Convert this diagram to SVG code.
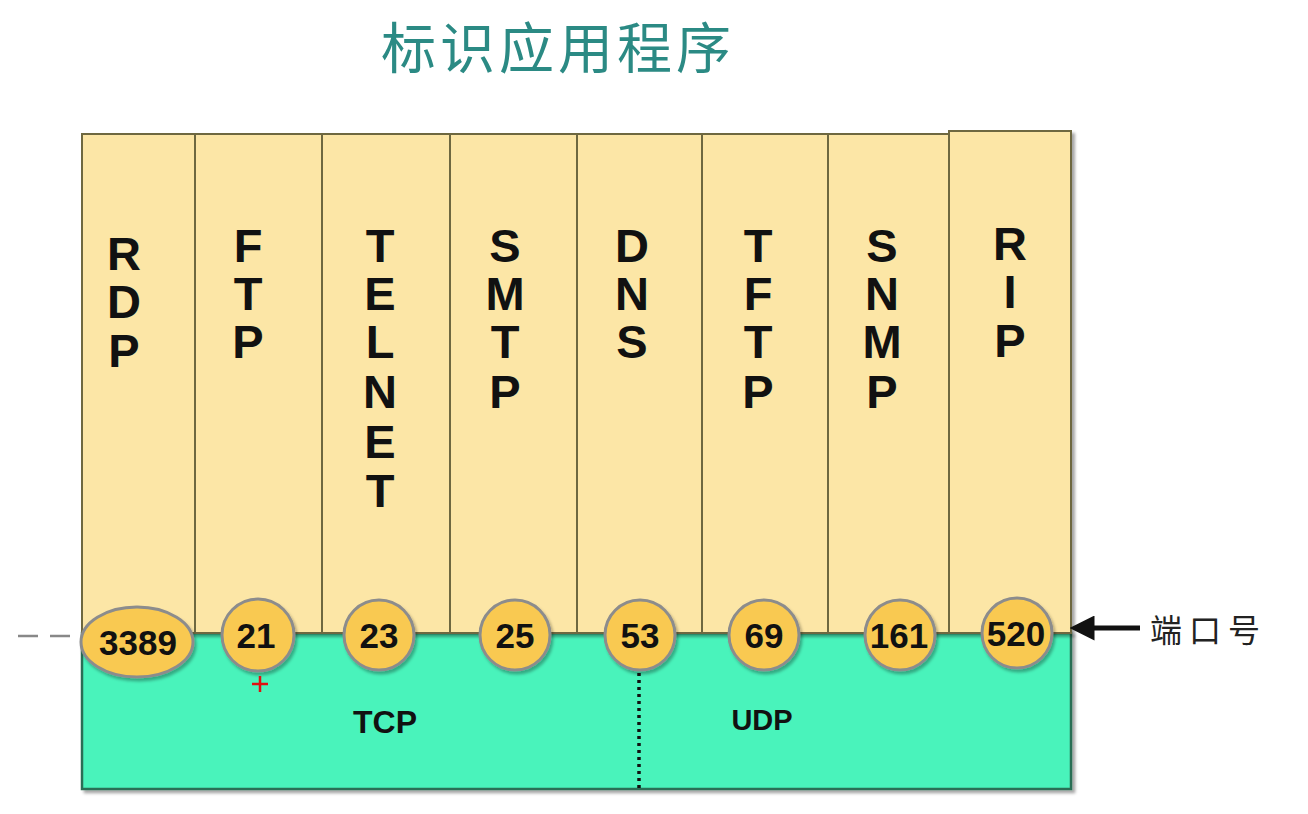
<svg xmlns="http://www.w3.org/2000/svg" width="1308" height="814" viewBox="0 0 1308 814">
<defs>
<filter id="sh" x="-10%" y="-10%" width="130%" height="130%"><feDropShadow dx="3" dy="3" stdDeviation="1.5" flood-color="#000" flood-opacity="0.35"/></filter>
<filter id="csh" x="-20%" y="-20%" width="150%" height="150%"><feDropShadow dx="2" dy="3" stdDeviation="1.5" flood-color="#000" flood-opacity="0.3"/></filter>
<marker id="ah" viewBox="0 0 10 10" refX="1" refY="5" markerWidth="5" markerHeight="5" orient="auto-start-reverse"><path d="M0,0 L10,5 L0,10 z" fill="#111"/></marker>
</defs>
<style>
.col{fill:#FCE6A6;stroke:#6E6840;stroke-width:2}
.lt{font-family:"Liberation Sans",Arial,sans-serif;font-weight:bold;font-size:47px;fill:#111;text-anchor:middle}
.port{fill:#F9C951;stroke:#8C8C8C;stroke-width:3;filter:url(#csh)}
.pt{font-family:"Liberation Sans",Arial,sans-serif;font-weight:bold;font-size:35px;fill:#111;text-anchor:middle}
.proto{font-family:"Liberation Sans",Arial,sans-serif;font-weight:bold;fill:#111;text-anchor:middle}
</style>
<rect width="1308" height="814" fill="#fff"/>
<text x="558" y="68" font-family="'Noto Sans CJK SC',sans-serif" font-size="55" fill="#2B8A84" text-anchor="middle" letter-spacing="4">标识应用程序</text>

<g id="transport">
<rect x="82" y="633" width="989" height="156" fill="#48F3BB" stroke="#2C6E55" stroke-width="2.5" filter="url(#sh)"/>
<text class="proto" x="385" y="733" font-size="32">TCP</text>
<text class="proto" x="762" y="730" font-size="29">UDP</text>
</g>

<g id="apps" filter="url(#sh)">
<rect class="col" x="82" y="134" width="113" height="499"/>
<rect class="col" x="195" y="134" width="127" height="499"/>
<rect class="col" x="322" y="134" width="128" height="499"/>
<rect class="col" x="450" y="134" width="127" height="499"/>
<rect class="col" x="577" y="134" width="125" height="499"/>
<rect class="col" x="702" y="134" width="126" height="499"/>
<rect class="col" x="828" y="134" width="121" height="499"/>
<rect class="col" x="949" y="131" width="122" height="502"/>
</g>

<g id="app-labels">
<g id="rdp"><text class="lt" x="124" y="270">R</text><text class="lt" x="124" y="318">D</text><text class="lt" x="124" y="367">P</text></g>
<g id="ftp"><text class="lt" x="248" y="262">F</text><text class="lt" x="248" y="310">T</text><text class="lt" x="248" y="358">P</text></g>
<g id="telnet"><text class="lt" x="380" y="262">T</text><text class="lt" x="380" y="310">E</text><text class="lt" x="380" y="358">L</text><text class="lt" x="380" y="408">N</text><text class="lt" x="380" y="458">E</text><text class="lt" x="380" y="507">T</text></g>
<g id="smtp"><text class="lt" x="505" y="262">S</text><text class="lt" x="505" y="310">M</text><text class="lt" x="505" y="358">T</text><text class="lt" x="505" y="408">P</text></g>
<g id="dns"><text class="lt" x="632" y="262">D</text><text class="lt" x="632" y="310">N</text><text class="lt" x="632" y="358">S</text></g>
<g id="tftp"><text class="lt" x="758" y="262">T</text><text class="lt" x="758" y="310">F</text><text class="lt" x="758" y="358">T</text><text class="lt" x="758" y="408">P</text></g>
<g id="snmp"><text class="lt" x="882" y="262">S</text><text class="lt" x="882" y="310">N</text><text class="lt" x="882" y="358">M</text><text class="lt" x="882" y="408">P</text></g>
<g id="rip"><text class="lt" x="1010" y="260">R</text><text class="lt" x="1010" y="308">I</text><text class="lt" x="1010" y="357">P</text></g>
</g>

<g id="connectors">
<line x1="18" y1="636" x2="80" y2="636" stroke="#888" stroke-width="2.5" stroke-dasharray="20,12"/>
<line x1="639" y1="673" x2="639" y2="789" stroke="#111" stroke-width="3.5" stroke-dasharray="3,4"/>
<line x1="1140" y1="628" x2="1092" y2="628" stroke="#111" stroke-width="5" marker-end="url(#ah)"/>
</g>

<g id="ports">
<g id="p3389"><ellipse class="port" cx="137" cy="642" rx="56" ry="35"/><text class="pt" x="138" y="655">3389</text></g>
<g id="p21"><circle class="port" cx="258" cy="635" r="36"/><text class="pt" x="256" y="648">21</text></g>
<g id="p23"><circle class="port" cx="379" cy="635" r="35"/><text class="pt" x="379" y="648">23</text></g>
<g id="p25"><circle class="port" cx="515" cy="635" r="35"/><text class="pt" x="515" y="648">25</text></g>
<g id="p53"><circle class="port" cx="640" cy="635" r="35"/><text class="pt" x="640" y="648">53</text></g>
<g id="p69"><circle class="port" cx="764" cy="635" r="35"/><text class="pt" x="764" y="648">69</text></g>
<g id="p161"><circle class="port" cx="900" cy="635" r="35"/><text class="pt" x="899" y="648">161</text></g>
<g id="p520"><circle class="port" cx="1017" cy="633" r="35"/><text class="pt" x="1016" y="646">520</text></g>
</g>

<g id="marker-plus" stroke="#E01010" stroke-width="2.5">
<line x1="252" y1="684" x2="268" y2="684"/><line x1="260" y1="676" x2="260" y2="692"/>
</g>

<g id="port-label">
<text x="1150" y="642" font-family="'Noto Sans CJK SC',sans-serif" font-size="32" fill="#222" letter-spacing="7">端口号</text>
</g>
</svg>
